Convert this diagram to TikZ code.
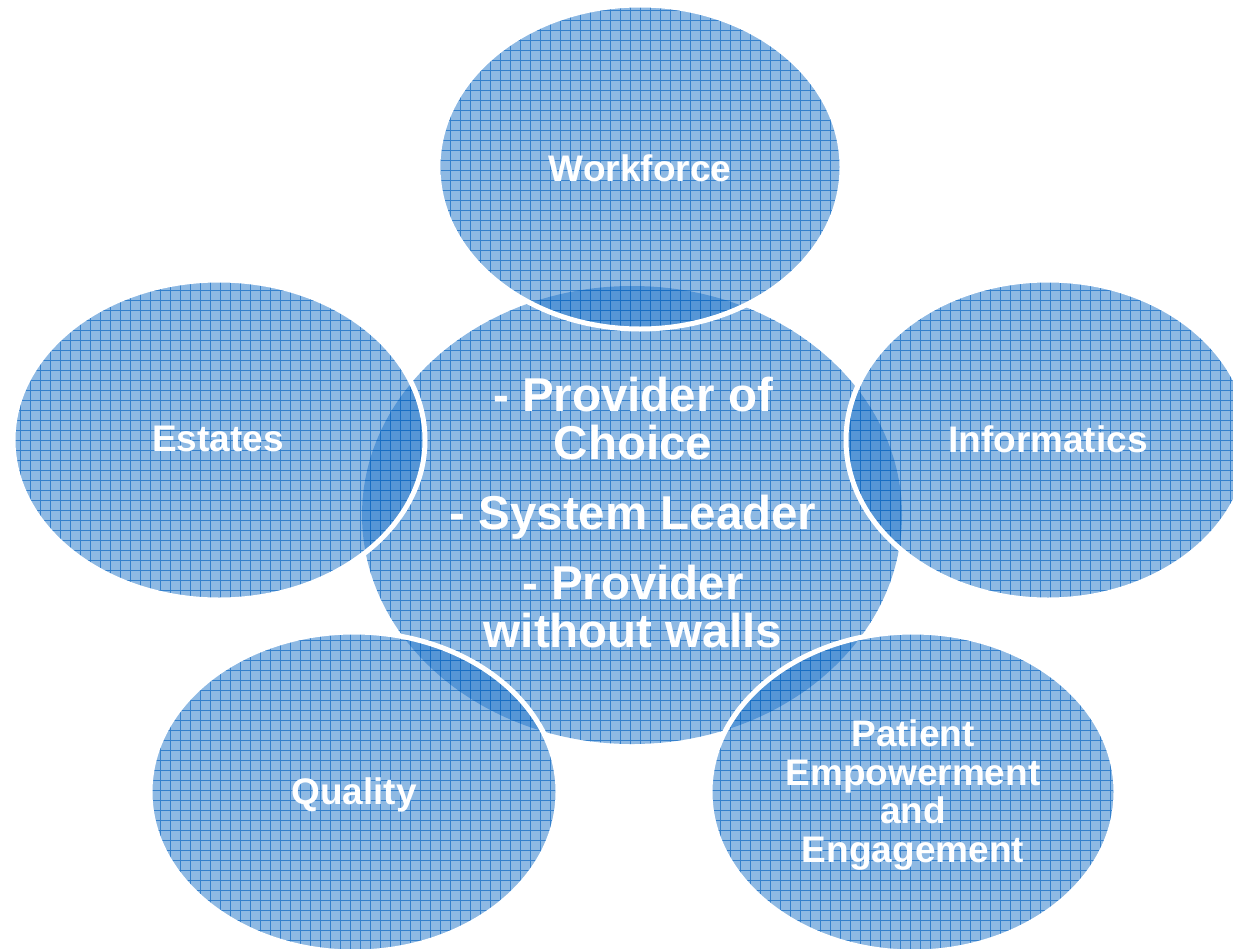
\documentclass[tikz,border=0pt]{standalone}
\usepackage{fontspec}
\setmainfont{Liberation Sans}
\definecolor{bubble}{RGB}{30,115,200}
\definecolor{gridc}{RGB}{15,105,195}
\tikzset{
  bubblefill/.style={fill=bubble, fill opacity=0.5},
  gridline/.style={draw=gridc, line width=0.9pt, draw opacity=0.7},
  rim/.style={draw=white, line width=5pt},
  lbl/.style={text=white, font=\bfseries\fontsize{37}{38.5}\selectfont, align=center, inner sep=0pt},
  biglbl/.style={text=white, font=\bfseries\fontsize{47.5}{48}\selectfont, align=center, inner sep=0pt},
}
\newcommand{\mybubble}[5]{%
  \fill[bubblefill] (#1,#2) ellipse [x radius=#3, y radius=#4];
  \begin{scope}
    \clip (#1,#2) ellipse [x radius=#3, y radius=#4];
    \draw[gridline] (0,-950) grid[step=10] (1240,0);
  \end{scope}
  \ifx#5r\draw[rim] (#1,#2) ellipse [x radius=#3, y radius=#4];\fi
}
\begin{document}
\begin{tikzpicture}[x=1pt,y=1pt]
\useasboundingbox (0,-948) rectangle (1233,0);
% centre
\mybubble{632}{-515}{270}{229}{n}
% outer
\mybubble{640}{-167}{202}{162}{r}
\mybubble{219}{-440}{206}{160}{r}
\mybubble{1048}{-440}{202}{160}{r}
\mybubble{354}{-792}{204}{160}{r}
\mybubble{913}{-792}{203}{160}{r}
% labels
\node[lbl] (workforce) at (640,-168) {Workforce};
\node[lbl] (estates) at (218,-439) {Estates};
\node[lbl] (informatics) at (1048,-439) {Informatics};
\node[lbl] (quality) at (354,-795) {Quality};
\node[lbl] (patient) at (913,-795) {Patient\\Empowerment\\and\\Engagement};
\node[biglbl] (centre) at (633,-513) {- Provider of\\Choice\\[22pt]- System Leader\\[22pt]- Provider\\without walls};
\end{tikzpicture}
\end{document}
